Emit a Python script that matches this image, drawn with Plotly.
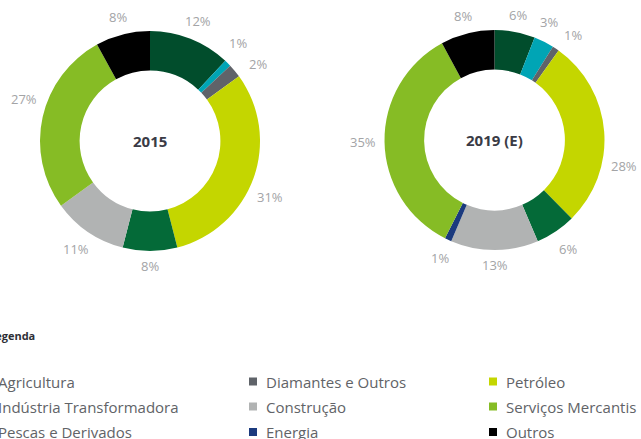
import math
import plotly.graph_objects as go

W, H = 641, 439

# sectors in slice order (clockwise from 12 o'clock)
sectors = ["Agricultura", "Pescas e Derivados", "Diamantes e Outros", "Petróleo",
           "Indústria Transformadora", "Construção", "Energia", "Serviços Mercantis", "Outros"]
colors = ["#014D2C", "#00A5B5", "#5F6369", "#C4D600",
          "#046A38", "#B1B3B3", "#1B3A7E", "#86BC25", "#000000"]
share_2015 = [12, 1, 2, 31, 8, 11, 0, 27, 8]
share_2019 = [6, 3, 1, 28, 6, 13, 1, 35, 8]

# legend is laid out column by column
legend_columns = [
    ["Agricultura", "Indústria Transformadora", "Pescas e Derivados"],
    ["Diamantes e Outros", "Construção", "Energia"],
    ["Petróleo", "Serviços Mercantis", "Outros"],
]

FONT = "Open Sans"
LABEL_GRAY = "#A3A4A6"
TEXT_GRAY = "#616367"

# small angle nudges (degrees) for a few labels, as placed in the original
label_nudge = {("2015", "Pescas e Derivados"): -3, ("2015", "Diamantes e Outros"): 4,
               ("2015", "Petróleo"): 5, ("2015", "Serviços Mercantis"): 6,
               ("2019 (E)", "Pescas e Derivados"): -2, ("2019 (E)", "Diamantes e Outros"): 3,
               ("2019 (E)", "Petróleo"): 16}


def px_x(x):
    return x / W


def px_y(y):
    return 1 - y / H


def note(text, x, y, size, color, xanchor="center"):
    fig.add_annotation(text=text, x=px_x(x), y=px_y(y), xref="paper", yref="paper",
                       xanchor=xanchor, yanchor="middle", showarrow=False,
                       font=dict(family=FONT, size=size, color=color))


fig = go.Figure()

R = 110
donuts = [("2015", share_2015, 150, 141), ("2019 (E)", share_2019, 494.5, 140)]
for title, vals, cx, cy in donuts:
    fig.add_trace(go.Pie(
        labels=sectors, values=vals, sort=False, direction="clockwise", rotation=0,
        hole=0.64, marker=dict(colors=colors, line=dict(width=0)),
        textinfo="none", hoverinfo="label+percent", showlegend=False,
        domain=dict(x=[px_x(cx - R), px_x(cx + R)], y=[px_y(cy + R), px_y(cy - R)]),
    ))
    note(f"<b>{title}</b>", cx, cy, 15, "#3A3B45")
    # percentage labels just outside the ring
    total = sum(vals)
    cum = 0
    for name, v in zip(sectors, vals):
        mid = (cum + v / 2) / total * 2 * math.pi
        cum += v
        if v == 0:
            continue
        mid += math.radians(label_nudge.get((title, name), 0))
        s, c = math.sin(mid), math.cos(mid)
        d = R + 8 + 13 * abs(s) + 7 * abs(c)
        note(f"{v}%", cx + d * s, cy - d * c, 13, LABEL_GRAY)

# legend
note("<b>Legenda</b>", 37, 335, 11, "#2E2F36", xanchor="right")

col_x = [-4, 264, 504]
row_y = [381.5, 406.5, 432]
color_of = dict(zip(sectors, colors))
for tx, names in zip(col_x, legend_columns):
    for ty, name in zip(row_y, names):
        fig.add_shape(type="rect", xref="paper", yref="paper",
                      x0=px_x(tx - 15), x1=px_x(tx - 7), y0=px_y(ty + 4), y1=px_y(ty - 4),
                      fillcolor=color_of[name], line=dict(width=0))
        note(name, tx, ty, 15, TEXT_GRAY, xanchor="left")

fig.update_layout(
    width=W, height=H,
    margin=dict(l=0, r=0, t=0, b=0),
    paper_bgcolor="white",
    plot_bgcolor="white",
    showlegend=False,
)

fig.write_html("out.html", config={"displayModeBar": False},
               post_script="document.body.style.margin='0';")
